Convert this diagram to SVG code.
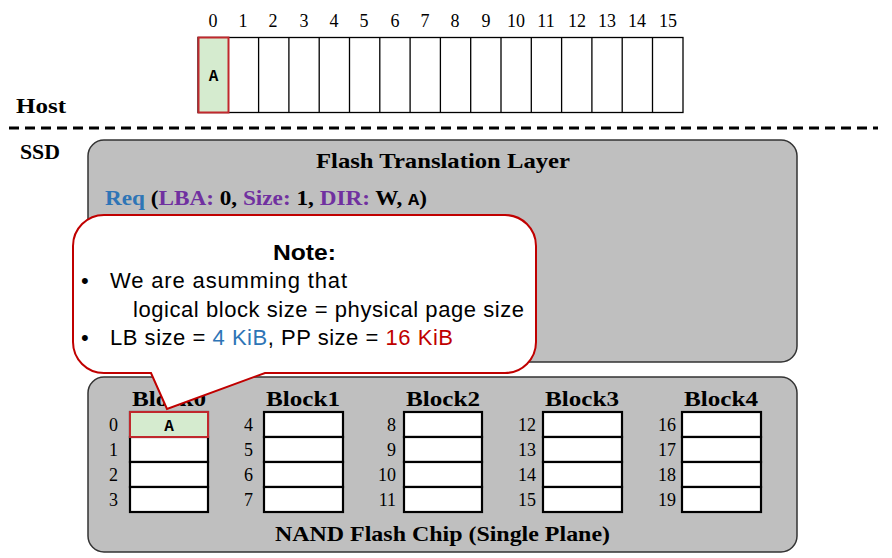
<svg xmlns="http://www.w3.org/2000/svg" width="892" height="558" viewBox="0 0 892 558">
<style>
.num{font-family:"Liberation Serif",serif;font-size:18px;fill:#000}
.bold{font-family:"Liberation Serif",serif;font-weight:bold;fill:#000}
.cell{fill:#fff;stroke:#000;stroke-width:1.3}
.bcell{fill:#fff;stroke:#000;stroke-width:2.2}
.hl{fill:#d5ebcf;stroke:#c0282d;stroke-width:2}
.mono{font-family:"Liberation Mono",monospace;font-weight:bold;font-size:16px;fill:#000}
.note{font-family:"Liberation Sans",sans-serif;font-size:22px;fill:#000}
.rn{font-family:"Liberation Serif",serif;font-size:18px;fill:#000;text-anchor:end}
.bl{font-family:"Liberation Serif",serif;font-weight:bold;font-size:22px;text-anchor:middle}
</style>
<rect width="892" height="558" fill="#fff"/>
<g id="host">
<g class="num" text-anchor="middle">
<text x="213" y="27">0</text><text x="243" y="27">1</text><text x="273" y="27">2</text><text x="304" y="27">3</text><text x="334" y="27">4</text><text x="364" y="27">5</text><text x="395" y="27">6</text><text x="425" y="27">7</text><text x="455" y="27">8</text><text x="486" y="27">9</text><text x="516" y="27">10</text><text x="546" y="27">11</text><text x="577" y="27">12</text><text x="607" y="27">13</text><text x="637" y="27">14</text><text x="668" y="27">15</text>
</g>
<rect class="cell" x="198" y="37.5" width="485" height="75"/>
<path d="M228.3 37.5V112.5M258.6 37.5V112.5M288.9 37.5V112.5M319.2 37.5V112.5M349.5 37.5V112.5M379.8 37.5V112.5M410.1 37.5V112.5M440.4 37.5V112.5M470.7 37.5V112.5M501 37.5V112.5M531.3 37.5V112.5M561.6 37.5V112.5M591.9 37.5V112.5M622.2 37.5V112.5M652.5 37.5V112.5" stroke="#000" stroke-width="1.3" fill="none"/>
<rect class="hl" x="198.5" y="37.5" width="30" height="75"/>
<text class="mono" x="213.5" y="81" text-anchor="middle">A</text>
<text class="bold" x="16" y="113" font-size="22" textLength="50" lengthAdjust="spacingAndGlyphs">Host</text>
</g>
<g id="divider">
<line x1="9" y1="128" x2="878" y2="128" stroke="#000" stroke-width="3" stroke-dasharray="10 6"/>
<text class="bold" x="20" y="159" font-size="21" textLength="40" lengthAdjust="spacingAndGlyphs">SSD</text>
</g>
<g id="ftl">
<rect x="88" y="140" width="709" height="222" rx="16" fill="#bfbfbf" stroke="#333" stroke-width="1.5"/>
<text class="bl" x="443" y="168" textLength="254" lengthAdjust="spacingAndGlyphs">Flash Translation Layer</text>
<text x="105" y="205" font-family="Liberation Serif,serif" font-weight="bold" font-size="21" textLength="322" lengthAdjust="spacingAndGlyphs"><tspan fill="#2e75b6">Req</tspan><tspan fill="#000"> (</tspan><tspan fill="#7030a0">LBA:</tspan><tspan fill="#000"> 0, </tspan><tspan fill="#7030a0">Size:</tspan><tspan fill="#000"> 1, </tspan><tspan fill="#7030a0">DIR:</tspan><tspan fill="#000"> W, </tspan><tspan font-family="Liberation Mono,monospace" font-size="17" fill="#000">A</tspan><tspan fill="#000">)</tspan></text>
</g>
<g id="nand">
<rect x="88" y="377" width="709" height="175" rx="16" fill="#bfbfbf" stroke="#333" stroke-width="1.5"/>
<text class="bl" x="169" y="406" textLength="74" lengthAdjust="spacingAndGlyphs">Block0</text>
<text class="bl" x="303" y="406" textLength="74" lengthAdjust="spacingAndGlyphs">Block1</text>
<text class="bl" x="443" y="406" textLength="74" lengthAdjust="spacingAndGlyphs">Block2</text>
<text class="bl" x="582" y="406" textLength="74" lengthAdjust="spacingAndGlyphs">Block3</text>
<text class="bl" x="721" y="406" textLength="74" lengthAdjust="spacingAndGlyphs">Block4</text>
<g>
<rect class="bcell" x="130" y="412" width="78" height="25"/><rect class="bcell" x="130" y="437" width="78" height="25"/><rect class="bcell" x="130" y="462" width="78" height="25"/><rect class="bcell" x="130" y="487" width="78" height="25"/>
<rect class="hl" x="130" y="412" width="78" height="25"/>
<text class="mono" x="169" y="431" text-anchor="middle">A</text>
<text class="rn" x="118" y="431">0</text><text class="rn" x="118" y="456">1</text><text class="rn" x="118" y="481">2</text><text class="rn" x="118" y="506">3</text>
</g>
<g>
<rect class="bcell" x="264" y="412" width="79" height="25"/><rect class="bcell" x="264" y="437" width="79" height="25"/><rect class="bcell" x="264" y="462" width="79" height="25"/><rect class="bcell" x="264" y="487" width="79" height="25"/>
<text class="rn" x="253" y="431">4</text><text class="rn" x="253" y="456">5</text><text class="rn" x="253" y="481">6</text><text class="rn" x="253" y="506">7</text>
</g>
<g>
<rect class="bcell" x="404" y="412" width="78" height="25"/><rect class="bcell" x="404" y="437" width="78" height="25"/><rect class="bcell" x="404" y="462" width="78" height="25"/><rect class="bcell" x="404" y="487" width="78" height="25"/>
<text class="rn" x="396" y="431">8</text><text class="rn" x="396" y="456">9</text><text class="rn" x="396" y="481">10</text><text class="rn" x="396" y="506">11</text>
</g>
<g>
<rect class="bcell" x="543" y="412" width="79" height="25"/><rect class="bcell" x="543" y="437" width="79" height="25"/><rect class="bcell" x="543" y="462" width="79" height="25"/><rect class="bcell" x="543" y="487" width="79" height="25"/>
<text class="rn" x="536" y="431">12</text><text class="rn" x="536" y="456">13</text><text class="rn" x="536" y="481">14</text><text class="rn" x="536" y="506">15</text>
</g>
<g>
<rect class="bcell" x="682" y="412" width="79" height="25"/><rect class="bcell" x="682" y="437" width="79" height="25"/><rect class="bcell" x="682" y="462" width="79" height="25"/><rect class="bcell" x="682" y="487" width="79" height="25"/>
<text class="rn" x="676" y="431">16</text><text class="rn" x="676" y="456">17</text><text class="rn" x="676" y="481">18</text><text class="rn" x="676" y="506">19</text>
</g>
<text class="bl" x="442.5" y="541" textLength="335" lengthAdjust="spacingAndGlyphs">NAND Flash Chip (Single Plane)</text>
</g>
<g id="note">
<path d="M104 215H505A31 31 0 0 1 536 246V342A31 31 0 0 1 505 373H265L167 409L151 373H104A31 31 0 0 1 73 342V246A31 31 0 0 1 104 215Z" fill="#fff" stroke="#c00000" stroke-width="2"/>
<text class="note" x="304.5" y="260" text-anchor="middle" font-weight="bold" textLength="63" lengthAdjust="spacingAndGlyphs">Note:</text>
<text class="note" x="81" y="288">•</text>
<text class="note" x="110" y="288" textLength="237">We are asumming that</text>
<text class="note" x="133" y="317" textLength="391">logical block size = physical page size</text>
<text class="note" x="81" y="345">•</text>
<text class="note" x="110" y="345" textLength="343">LB size = <tspan fill="#2e75b6">4 KiB</tspan>, PP size = <tspan fill="#c00000">16 KiB</tspan></text>
</g>
</svg>
